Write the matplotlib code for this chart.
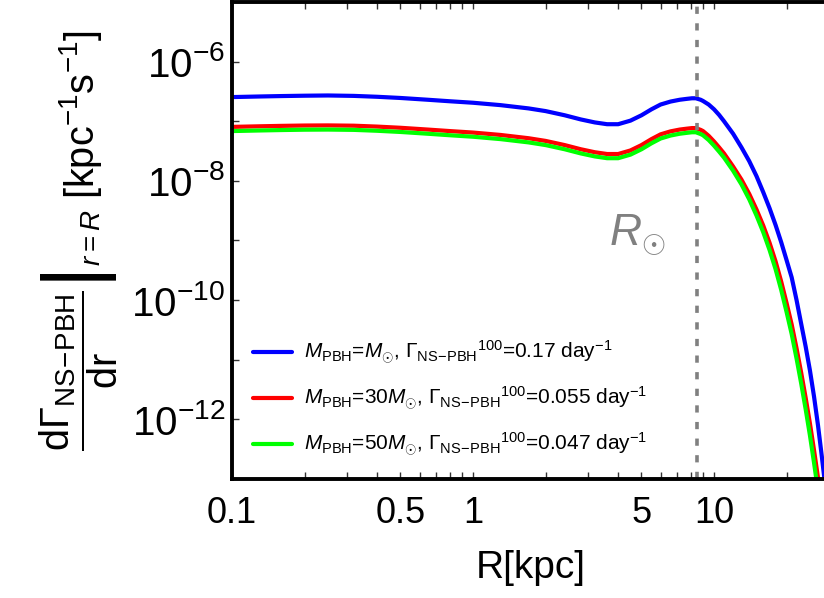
import matplotlib
matplotlib.use("Agg")
import matplotlib.pyplot as plt
from matplotlib.ticker import LogLocator, FixedLocator, FixedFormatter, NullFormatter
import numpy as np

plt.rcParams['font.family'] = ['Liberation Sans', 'DejaVu Sans']
plt.rcParams['mathtext.fontset'] = 'custom'
plt.rcParams['mathtext.rm'] = 'Liberation Sans'
plt.rcParams['mathtext.it'] = 'Liberation Sans:italic'
plt.rcParams['mathtext.bf'] = 'Liberation Sans:bold'

# galactocentric radius R [kpc]
R = [0.1, 0.13, 0.16, 0.2, 0.25, 0.32, 0.4, 0.5, 0.65, 0.8, 1.0, 1.3, 1.7, 2.0,
     2.4, 2.8, 3.2, 3.6, 4.0, 4.5, 5.0, 5.5, 6.0, 6.6, 7.2, 7.7, 8.1, 8.4, 8.8,
     9.0, 9.5, 10, 10.5, 11, 12, 13, 14, 15, 16, 17, 18, 19, 20, 21, 22, 23, 24,
     25, 26, 27, 28, 29, 30]

# log10 of dGamma/dr
log_rate_1 = [-6.595, -6.585, -6.578, -6.572, -6.568, -6.575, -6.59, -6.61, -6.64,
              -6.665, -6.69, -6.73, -6.785, -6.83, -6.90, -6.97, -7.02, -7.05, -7.05,
              -6.99, -6.90, -6.80, -6.72, -6.67, -6.64, -6.625, -6.615, -6.615, -6.64,
              -6.66, -6.72, -6.80, -6.895, -7.00, -7.21, -7.44, -7.67, -7.92, -8.19,
              -8.46, -8.74, -9.03, -9.33, -9.62, -10.0, -10.40, -10.78, -11.18, -11.62,
              -12.10, -12.62, -13.15, -13.7]
log_rate_30 = [-7.095, -7.085, -7.078, -7.072, -7.07, -7.075, -7.09, -7.11, -7.14,
               -7.165, -7.19, -7.23, -7.285, -7.33, -7.40, -7.47, -7.52, -7.55, -7.55,
               -7.49, -7.40, -7.30, -7.22, -7.17, -7.14, -7.125, -7.115, -7.115, -7.145,
               -7.165, -7.245, -7.34, -7.44, -7.54, -7.76, -7.98, -8.22, -8.48, -8.75,
               -9.04, -9.35, -9.69, -10.05, -10.41, -10.81, -11.22, -11.64, -12.07, -12.52,
               -12.98, -13.45, -13.95, -14.45]
log_rate_50 = [-7.165, -7.155, -7.148, -7.142, -7.14, -7.145, -7.16, -7.18, -7.21,
               -7.235, -7.26, -7.30, -7.355, -7.40, -7.47, -7.54, -7.59, -7.62, -7.62,
               -7.56, -7.47, -7.37, -7.29, -7.24, -7.21, -7.195, -7.185, -7.185, -7.215,
               -7.235, -7.315, -7.41, -7.51, -7.61, -7.83, -8.06, -8.31, -8.58, -8.86,
               -9.16, -9.48, -9.83, -10.20, -10.57, -10.98, -11.40, -11.83, -12.27, -12.73,
               -13.2, -13.7, -14.2, -14.7]

labels = [r'$M_{\mathrm{PBH}}$=$M_{\odot}$, $\Gamma_{\mathrm{NS\!-\!PBH}}{}^{100}$=0.17 day$^{-1}$',
          r'$M_{\mathrm{PBH}}$=30$M_{\odot}$, $\Gamma_{\mathrm{NS\!-\!PBH}}{}^{100}$=0.055 day$^{-1}$',
          r'$M_{\mathrm{PBH}}$=50$M_{\odot}$, $\Gamma_{\mathrm{NS\!-\!PBH}}{}^{100}$=0.047 day$^{-1}$']
colors = ['#0000ff', '#ff0000', '#00ff00']

R_sun = 8.5
xticks = [0.1, 0.5, 1, 5, 10]
xticklabels = ['0.1', '0.5', '1', '5', '10']

fig = plt.figure(figsize=(8.24, 5.98), dpi=100)
ax = fig.add_axes([0.2816, 0.199, 0.7245, 0.7977])

for series, c, lab in zip([log_rate_1, log_rate_30, log_rate_50], colors, labels):
    ax.plot(R, 10 ** np.array(series), color=c, lw=3.0, label=lab,
            solid_capstyle='round')

ax.axvline(R_sun, color='#808080', lw=2.6, dashes=(2.0, 2.6))
ax.text(6.3, 1.2e-9, r'$R_{\odot}$', color='#808080', fontsize=32,
        ha='right', va='center')

ax.set_xscale('log')
ax.set_yscale('log')
ax.set_xlim(0.1, 30)
ax.set_ylim(1e-13, 1e-5)

ax.xaxis.set_major_locator(FixedLocator(xticks))
ax.xaxis.set_major_formatter(FixedFormatter(xticklabels))
ax.xaxis.set_minor_locator(LogLocator(base=10, subs=np.arange(1, 10)))
ax.xaxis.set_minor_formatter(NullFormatter())
ax.yaxis.set_major_locator(FixedLocator([1e-12, 1e-10, 1e-8, 1e-6]))
ax.yaxis.set_minor_locator(FixedLocator([1e-13, 1e-11, 1e-9, 1e-7, 1e-5]))
ax.yaxis.set_minor_formatter(NullFormatter())

ax.tick_params(which='both', direction='in', top=True, right=False,
               length=5, width=1, color='#333333')
ax.tick_params(axis='x', labelsize=26, pad=12)
ax.tick_params(axis='y', labelsize=29, pad=5)

for side in ['left', 'bottom', 'top']:
    ax.spines[side].set_linewidth(2.8)
ax.spines['right'].set_visible(False)

ax.set_xlabel('R[kpc]', fontsize=28, labelpad=14)
ax.set_ylabel(r'$\left.\dfrac{\mathrm{d}\Gamma_{\mathrm{NS\!-\!PBH}}}{\mathrm{dr}}\right|_{r=R}$ [kpc$^{-1}$s$^{-1}$]',
              fontsize=28.5, labelpad=8)

leg = ax.legend(loc='lower left', bbox_to_anchor=(0.0, 0.0), frameon=False,
                fontsize=15, handlelength=1.9, handletextpad=0.55,
                labelspacing=0.9, borderaxespad=0.6)

fig.savefig('out.png', dpi=100)
